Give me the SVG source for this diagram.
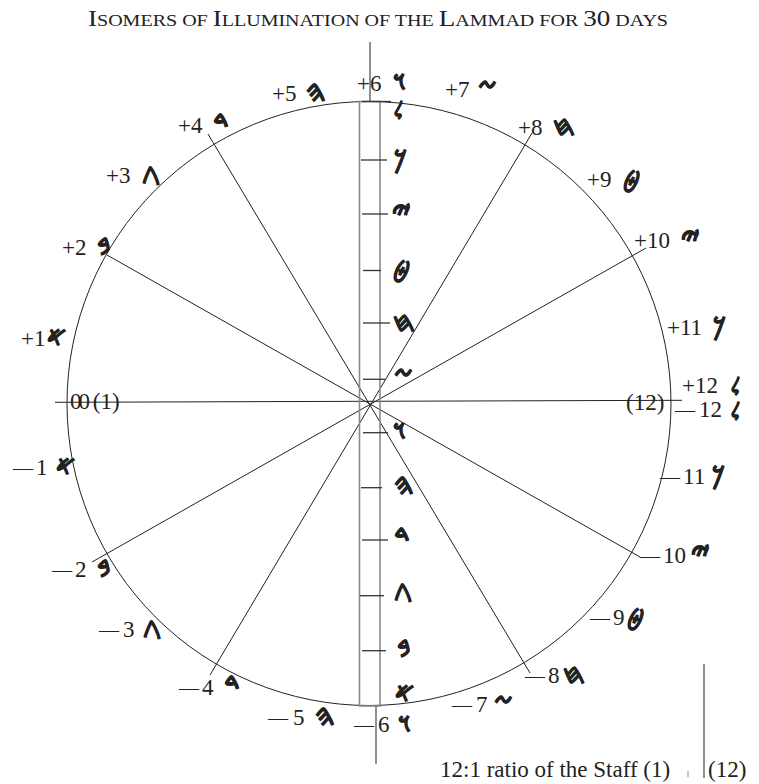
<svg xmlns="http://www.w3.org/2000/svg" width="759" height="784" viewBox="0 0 759 784">
<style>
.t{font-family:"Liberation Serif","Times New Roman",serif;font-size:23px;fill:#222}
.d{font-size:20px}
.s{font-family:"DejaVu Sans","Noto Sans",sans-serif;font-size:26px;font-weight:bold;fill:#222;stroke:#222;stroke-width:0.8}
.lam{font-size:19px}
.big{font-size:32px}
.mid{font-size:29px}
.ln{stroke:#222;stroke-width:1;fill:none}
.tk{stroke:#333;stroke-width:1.3}
.st{stroke:#8a8a8a;stroke-width:1.6;fill:none}
</style>
<rect width="759" height="784" fill="#fff"/>
<text class="t" x="88" y="26" textLength="580" lengthAdjust="spacingAndGlyphs"><tspan font-size="23">I</tspan><tspan font-size="17">SOMERS OF </tspan><tspan font-size="23">I</tspan><tspan font-size="17">LLUMINATION OF THE </tspan><tspan font-size="23">L</tspan><tspan font-size="17">AMMAD FOR </tspan><tspan font-size="23">30</tspan><tspan font-size="17"> DAYS</tspan></text>
<g id="connectors">
<circle class="ln" cx="369" cy="403.5" r="302" stroke-width="1.2"/>
<line class="ln" x1="370" y1="42" x2="370" y2="101"/>
<line class="ln" x1="376" y1="706" x2="376" y2="764"/>
<line class="ln" x1="55" y1="402.3" x2="682" y2="400.3"/>
<line class="ln" x1="107" y1="255" x2="640" y2="557"/>
<line class="ln" x1="208" y1="134" x2="530" y2="673"/>
<line class="ln" x1="532" y1="133" x2="210" y2="675"/>
<line class="ln" x1="646" y1="248" x2="92" y2="562"/>
</g>
<g id="staff">
<rect class="st" x="359.5" y="101.5" width="20.5" height="604.5"/>
<line class="tk" x1="362" y1="101.5" x2="391" y2="101.5"/>
<line class="tk" x1="361" y1="160" x2="387" y2="160"/>
<line class="tk" x1="362" y1="214" x2="388" y2="214"/>
<line class="tk" x1="363" y1="270.5" x2="381" y2="270.5"/>
<line class="tk" x1="363" y1="323" x2="390" y2="323"/>
<line class="tk" x1="363" y1="379.3" x2="385" y2="379.3"/>
<line class="tk" x1="363" y1="432.7" x2="388" y2="432.7"/>
<line class="tk" x1="361" y1="487.7" x2="382" y2="487.7"/>
<line class="tk" x1="362" y1="540" x2="388" y2="540"/>
<line class="tk" x1="360" y1="595.7" x2="384" y2="595.7"/>
<line class="tk" x1="362" y1="650.7" x2="386" y2="650.7"/>
<text class="s lam" x="394" y="117">𐤋</text>
<text class="s" x="394" y="168">𐤊</text>
<text class="s mid" x="392" y="222">𐤉</text>
<text class="s" x="393" y="277">𐤈</text>
<text class="s" x="393" y="331">𐤇</text>
<text class="s" x="394" y="385">𐤆</text>
<text class="s" x="393" y="439">𐤅</text>
<text class="s mid" x="394" y="494">𐤄</text>
<text class="s big" x="394" y="547">𐤃</text>
<text class="s" x="394" y="600">𐤂</text>
<text class="s mid" x="397" y="657">𐤁</text>
<text class="s" x="395" y="702">𐤀</text>
</g>
<g id="plus-labels">
<text class="t" x="21" y="346">+1</text><text class="s" x="47" y="346">𐤀</text>
<text class="t" x="62" y="255">+2</text><text class="s mid" x="97" y="255">𐤁</text>
<text class="t" x="106" y="183">+3</text><text class="s" x="142" y="183">𐤂</text>
<text class="t" x="178" y="133">+4</text><text class="s big" x="213" y="133">𐤃</text>
<text class="t" x="272" y="101">+5</text><text class="s mid" x="306" y="101">𐤄</text>
<text class="t" x="357" y="91">+6</text><text class="s" x="393" y="90">𐤅</text>
<text class="t" x="445" y="97">+7</text><text class="s" x="478" y="97">𐤆</text>
<text class="t" x="518" y="135">+8</text><text class="s" x="553" y="135">𐤇</text>
<text class="t" x="587" y="187">+9</text><text class="s" x="623" y="187">𐤈</text>
<text class="t" x="634" y="248">+10</text><text class="s mid" x="681" y="248">𐤉</text>
<text class="t" x="667" y="335">+11</text><text class="s" x="713" y="335">𐤊</text>
<text class="t" x="682" y="393">+12</text><text class="s lam" x="731" y="393">𐤋</text>
</g>
<g id="minus-labels">
<text class="t" x="675" y="417"><tspan class="d">—</tspan><tspan dx="4">12</tspan></text><text class="s lam" x="731" y="418">𐤋</text>
<text class="t" x="660" y="484"><tspan class="d">—</tspan><tspan dx="3">11</tspan></text><text class="s" x="712" y="484">𐤊</text>
<text class="t" x="640" y="563"><tspan class="d">—</tspan><tspan dx="3">10</tspan></text><text class="s mid" x="691" y="563">𐤉</text>
<text class="t" x="590" y="625"><tspan class="d">—</tspan><tspan dx="3">9</tspan></text><text class="s" x="627" y="625">𐤈</text>
<text class="t" x="525" y="683"><tspan class="d">—</tspan><tspan dx="3">8</tspan></text><text class="s" x="563" y="683">𐤇</text>
<text class="t" x="452" y="712"><tspan class="d">—</tspan><tspan dx="4">7</tspan></text><text class="s" x="494" y="712">𐤆</text>
<text class="t" x="354" y="732"><tspan class="d">—</tspan><tspan dx="4">6</tspan></text><text class="s" x="398" y="732">𐤅</text>
<text class="t" x="268" y="725"><tspan class="d">—</tspan><tspan dx="5">5</tspan></text><text class="s mid" x="315" y="725">𐤄</text>
<text class="t" x="179" y="695"><tspan class="d">—</tspan><tspan dx="3">4</tspan></text><text class="s big" x="224" y="695">𐤃</text>
<text class="t" x="99" y="637"><tspan class="d">—</tspan><tspan dx="4">3</tspan></text><text class="s" x="143" y="637">𐤂</text>
<text class="t" x="52" y="577"><tspan class="d">—</tspan><tspan dx="3">2</tspan></text><text class="s mid" x="97" y="577">𐤁</text>
<text class="t" x="13" y="475"><tspan class="d">—</tspan><tspan dx="3">1</tspan></text><text class="s" x="56" y="475">𐤀</text>
</g>
<g id="ends">
<text class="t" x="70" y="409" letter-spacing="-3">00<tspan letter-spacing="0"> (1)</tspan></text>
<text class="t" x="626" y="410">(12)</text>
</g>
<g id="ratio">
<text class="t" x="440" y="777">12:1 ratio of the Staff (1)</text>
<line x1="688" y1="771" x2="688" y2="777" stroke="#888" stroke-width="1"/>
<line class="ln" x1="704" y1="664" x2="704" y2="778"/>
<text class="t" x="708" y="777">(12)</text>
</g>
</svg>
